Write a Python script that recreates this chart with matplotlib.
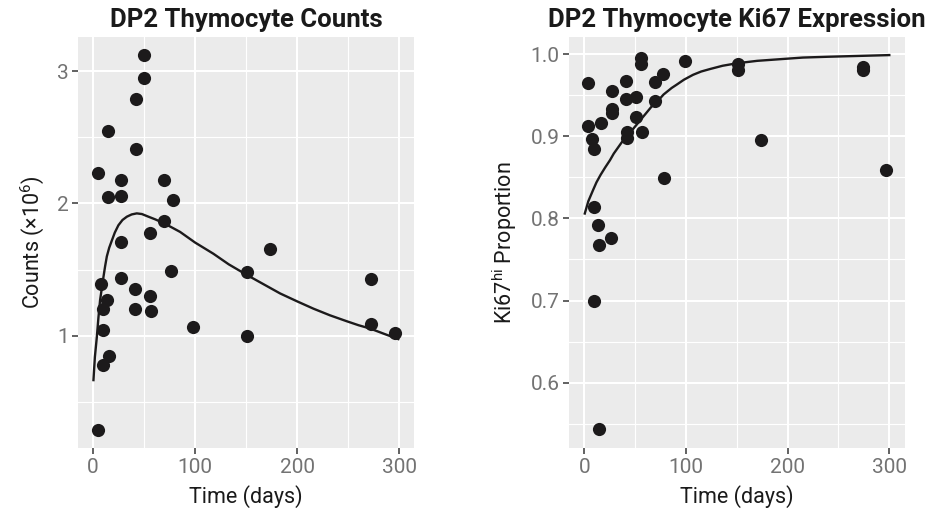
import numpy as np
import matplotlib
matplotlib.use('Agg')
import matplotlib.pyplot as plt

plt.rcParams['font.family'] = ['Roboto', 'DejaVu Sans']
plt.rcParams['mathtext.fontset'] = 'custom'
plt.rcParams['mathtext.rm'] = 'Roboto'
plt.rcParams['mathtext.it'] = 'Roboto:italic'
plt.rcParams['mathtext.bf'] = 'Roboto:bold'

# left panel - counts (x10^6)
count_days = [4.9, 4.9, 7.8, 9.8, 10.4, 9.8, 13.7, 15.6, 14.7, 14.7, 27.4, 27.4,
              28, 28, 41.4, 41.4, 42, 42.6, 50.2, 50.2, 56.1, 56.1, 56.7, 69.5,
              69.5, 76.3, 78.6, 98.4, 150.7, 150.7, 173.8, 272.3, 272.3, 295.8]
counts = [2.23, 0.29, 1.39, 1.20, 1.04, 0.78, 1.27, 0.85, 2.55, 2.05, 2.18, 2.06,
          1.71, 1.44, 1.355, 1.20, 2.415, 2.79, 3.12, 2.95, 1.78, 1.30, 1.19, 2.18,
          1.87, 1.49, 2.025, 1.07, 1.48, 1.00, 1.655, 1.43, 1.09, 1.02]
count_fit_days = [0.6, 2, 3.9, 5.5, 7.1, 8.8, 10.4, 12, 13.7, 16, 18.6, 21.5, 25, 29,
                  33.3, 38, 43, 48, 54.4, 61, 69.8, 77, 85.4, 100, 118, 133, 150.7,
                  167, 183.3, 200, 215.9, 232, 248.5, 260, 271.3, 285, 299]
count_fit = [0.665, 0.84, 0.99, 1.14, 1.27, 1.36, 1.445, 1.525, 1.60, 1.665, 1.72, 1.78,
             1.835, 1.875, 1.90, 1.917, 1.925, 1.92, 1.90, 1.88, 1.85, 1.82, 1.785, 1.705,
             1.62, 1.54, 1.46, 1.39, 1.32, 1.26, 1.205, 1.155, 1.11, 1.08, 1.055, 1.015, 0.975]

# right panel - Ki67hi proportion
ki_days = [3.9, 3.9, 7.2, 9.2, 9.5, 9.2, 13.4, 14.4, 14.4, 16.1, 26.6, 27.5,
           27.5, 27.5, 41.3, 41.3, 42.3, 42.3, 50.5, 50.5, 55.7, 55.7, 56.7, 69.5,
           69.5, 77, 78.7, 99, 150.8, 150.8, 173.8, 274.4, 274.4, 296.7]
ki67 = [0.965, 0.913, 0.897, 0.884, 0.814, 0.699, 0.792, 0.768, 0.543, 0.916, 0.776, 0.955,
        0.933, 0.928, 0.968, 0.946, 0.905, 0.898, 0.948, 0.923, 0.996, 0.988, 0.905, 0.966,
        0.943, 0.976, 0.849, 0.992, 0.988, 0.981, 0.896, 0.985, 0.981, 0.859]
ki_fit_days = [0.5, 4, 8.8, 12, 16, 20.5, 25.3, 29, 33, 37, 41.7, 46, 50, 54, 58, 62, 66,
               70, 74.4, 78, 82, 86, 90.9, 98, 107, 115, 123.6, 136, 149.9, 170, 192.4,
               215, 240, 270, 300]
ki_fit = [0.806, 0.821, 0.835, 0.844, 0.853, 0.862, 0.871, 0.879, 0.886, 0.893, 0.900,
          0.906, 0.912, 0.918, 0.924, 0.930, 0.936, 0.941, 0.946, 0.951, 0.955, 0.959,
          0.963, 0.969, 0.975, 0.979, 0.982, 0.986, 0.989, 0.992, 0.994, 0.996, 0.997,
          0.998, 0.999]

dot_col = '#1c1a1b'
grey_txt = '#737373'

fig = plt.figure(figsize=(9.37, 5.29), dpi=100)
ax1 = fig.add_axes([0.0836, 0.1526, 0.3583, 0.778])
ax2 = fig.add_axes([0.6076, 0.1526, 0.3583, 0.778])


def style(ax, yticks, yminor):
    ax.set_facecolor('#ebebeb')
    for s in ax.spines.values():
        s.set_visible(False)
    ax.set_xticks([0, 100, 200, 300])
    ax.set_xticks([50, 150, 250], minor=True)
    ax.set_yticks(yticks)
    ax.set_yticks(yminor, minor=True)
    ax.grid(which='major', color='white', lw=1.5)
    ax.grid(which='minor', color='white', lw=0.8)
    ax.set_axisbelow(True)
    ax.tick_params(which='major', length=4, width=1.3, color='#555555',
                   labelsize=15, labelcolor=grey_txt, pad=3)
    ax.tick_params(which='minor', length=0)
    ax.set_xlabel('Time (days)', fontsize=15.5, color='#1a1a1a', labelpad=6)


ax1.scatter(count_days, counts, s=90, color=dot_col, zorder=3, linewidths=0)
ax1.plot(count_fit_days, count_fit, color=dot_col, lw=1.7, zorder=2)
style(ax1, [1, 2, 3], [0.5, 1.5, 2.5])
ax1.set_yticklabels(['1', '2', '3'])
ax1.set_xlim(-14.2, 314.4)
ax1.set_ylim(0.15, 3.26)
ax1.set_ylabel('Counts (×10$^{6}$)', fontsize=15.5, color='#1a1a1a', labelpad=8)
ax1.set_title('DP2 Thymocyte Counts', fontsize=18.5, fontweight='bold',
              color='#1a1a1a', pad=7)

ax2.scatter(ki_days, ki67, s=90, color=dot_col, zorder=3, linewidths=0)
ax2.plot(ki_fit_days, ki_fit, color=dot_col, lw=1.7, zorder=2)
style(ax2, [0.6, 0.7, 0.8, 0.9, 1.0], [0.55, 0.65, 0.75, 0.85, 0.95])
ax2.set_yticklabels(['0.6', '0.7', '0.8', '0.9', '1.0'])
ax2.set_xlim(-14.7, 315.5)
ax2.set_ylim(0.52, 1.0214)
ax2.set_ylabel('Ki67$^{\\mathrm{hi}}$ Proportion', fontsize=15.5, color='#1a1a1a', labelpad=8)
ax2.set_title('DP2 Thymocyte Ki67 Expression', fontsize=18.5, fontweight='bold',
              color='#1a1a1a', pad=7)

fig.savefig('out.png', dpi=100)
